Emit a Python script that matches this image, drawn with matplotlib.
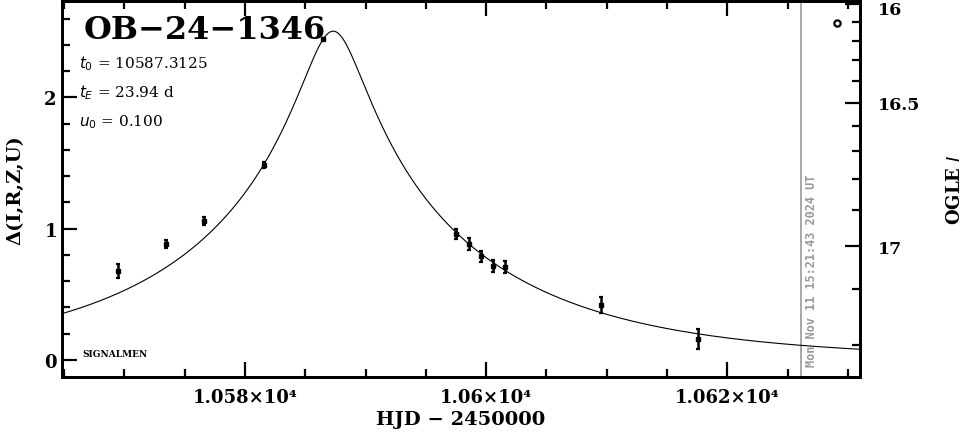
import numpy as np
import matplotlib
matplotlib.use("Agg")
import matplotlib.pyplot as plt
from matplotlib.ticker import MultipleLocator, FixedLocator, FuncFormatter
import matplotlib.transforms as mtransforms

# ---- data ----
event_name = "OB\u221224\u22121346"
t0 = 10587.3125
tE = 23.94
u0 = 0.100
obs_t = [10569.48, 10573.43, 10576.58, 10581.55, 10586.48, 10597.54, 10598.56,
         10599.55, 10600.57, 10601.54, 10609.56, 10617.57]
obs_d = [0.676, 0.883, 1.061, 1.485, 2.445, 0.960, 0.883, 0.790, 0.718, 0.706,
         0.419, 0.160]
obs_e = [0.053, 0.033, 0.030, 0.025, 0.008, 0.038, 0.043, 0.042, 0.046, 0.046,
         0.059, 0.076]
ogle_t = [10629.10]
ogle_d = [2.567]
now_t = 10626.14
now_label = "Mon Nov 11 15:21:43 2024 UT"
I_base = 17.223
f_source = 0.1866
mag_major = [16.0, 16.5, 17.0]
mag_major_labels = ["16", "16.5", "17"]
mag_minor = [16.1, 16.2, 16.3, 16.4, 16.6, 16.7, 16.8, 16.9, 17.1, 17.2]
x_major_labels = {10580: "1.058\u00d710\u2074", 10600: "1.06\u00d710\u2074",
                  10620: "1.062\u00d710\u2074"}

FONT = "DejaVu Serif"
plt.rcParams['font.family'] = [FONT]

fig = plt.figure(figsize=(9.65, 4.35), dpi=100)
ax = fig.add_axes([0.0639, 0.1317, 0.8273, 0.8644])
xlim = (10564.8, 10631.0)
ylim = (-0.127, 2.736)

# model curve
tt = np.linspace(xlim[0], xlim[1], 1500)
u = np.sqrt(u0**2 + ((tt - t0) / tE)**2)
A = (u**2 + 2) / (u * np.sqrt(u**2 + 4))
ax.plot(tt, 2.5 * np.log10(A), color="black", lw=0.8, zorder=2)

ax.errorbar(obs_t, obs_d, yerr=obs_e, fmt="s", ms=2.2, color="black",
            ecolor="black", elinewidth=1.8, capsize=1.6, capthick=1.6, zorder=3)
ax.plot(ogle_t, ogle_d, "o", mfc="white", mec="black", ms=4.5, mew=1.6, zorder=3)

ax.axvline(now_t, color="#999999", lw=1.2, zorder=1)
ax.text(now_t + 0.3, -0.048, now_label, rotation=90, color="#999999",
        fontsize=8.6, fontweight="bold", family="DejaVu Sans Mono",
        ha="left", va="bottom")

ax.set_xlim(*xlim)
ax.set_ylim(*ylim)

for s in ax.spines.values():
    s.set_linewidth(2.0)

ax.xaxis.set_major_locator(FixedLocator(list(x_major_labels.keys())))
ax.xaxis.set_major_formatter(FuncFormatter(lambda v, p: x_major_labels.get(int(round(v)), "")))
ax.xaxis.set_minor_locator(MultipleLocator(5))
ax.yaxis.set_major_locator(MultipleLocator(1))
ax.yaxis.set_minor_locator(MultipleLocator(0.2))
ax.yaxis.set_major_formatter(FuncFormatter(lambda v, p: f"{v:.0f}"))
ax.tick_params(which="both", direction="in", top=True, right=False, width=1.6,
               labelsize=13)
ax.tick_params(which="major", length=11)
ax.tick_params(which="minor", length=6)
ax.tick_params(axis="x", pad=8)
for lab in ax.get_xticklabels() + ax.get_yticklabels():
    lab.set_fontweight("bold")

ax.set_xlabel("HJD \u2212 2450000", fontsize=14, fontweight="bold", labelpad=3)
ax.set_ylabel("\u0394(I,R,Z,U)", fontsize=14, fontweight="bold", labelpad=14)

# right magnitude axis
def mag_to_delta(m):
    m = np.asarray(m, dtype=float)
    F = 10 ** (-0.4 * (m - I_base))
    return 2.5 * np.log10((F - 1) / f_source + 1)

ax2 = ax.twinx()
ax2.set_ylim(*ylim)
ax2.yaxis.set_major_locator(FixedLocator(mag_to_delta(mag_major)))
ax2.yaxis.set_major_formatter(FuncFormatter(
    lambda v, p: mag_major_labels[p] if p is not None and p < len(mag_major_labels) else ""))
ax2.yaxis.set_minor_locator(FixedLocator(mag_to_delta(mag_minor)))
ax2.tick_params(which="both", direction="in", width=1.6, labelsize=12.5, pad=13)
ax2.tick_params(which="major", length=11)
ax2.tick_params(which="minor", length=6)
for s in ax2.spines.values():
    s.set_linewidth(2.0)
fig.canvas.draw()
labs = ax2.get_yticklabels()
for lab in labs:
    lab.set_fontweight("bold")
# shift the top label down slightly so it stays inside the canvas
off = mtransforms.ScaledTranslation(0, -3 / 72, fig.dpi_scale_trans)
labs[0].set_transform(labs[0].get_transform() + off)

fig.text(955 / 965, 1 - 190 / 435, "OGLE $\\mathit{I}$", rotation=90,
         fontsize=13, fontweight="bold", ha="center", va="center")

# annotations
ax.text(0.027, 0.965, event_name, transform=ax.transAxes, fontsize=23,
        fontweight="bold", ha="left", va="top")
ax.text(0.022, 0.835, f"$t_0$ = {t0:.4f}", transform=ax.transAxes, fontsize=11,
        ha="left", va="center")
ax.text(0.022, 0.757, f"$t_E$ = {tE:.2f} d", transform=ax.transAxes, fontsize=11,
        ha="left", va="center")
ax.text(0.022, 0.680, f"$u_0$ = {u0:.3f}", transform=ax.transAxes, fontsize=11,
        ha="left", va="center")
ax.text(0.026, 0.063, "SIGNALMEN", transform=ax.transAxes, fontsize=6.5,
        fontweight="bold", ha="left", va="center")

fig.savefig("out.png", dpi=100)
